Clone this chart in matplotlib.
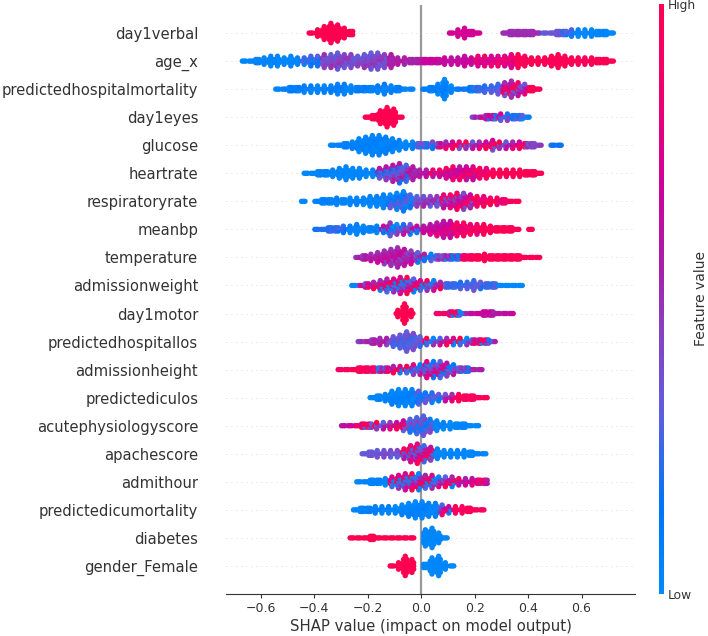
import matplotlib
matplotlib.use("Agg")
import matplotlib.pyplot as plt
import numpy as np
from matplotlib.colors import LinearSegmentedColormap

feature_names = ["day1verbal", "age_x", "predictedhospitalmortality", "day1eyes", "glucose",
                 "heartrate", "respiratoryrate", "meanbp", "temperature", "admissionweight",
                 "day1motor", "predictedhospitallos", "admissionheight", "predictediculos",
                 "acutephysiologyscore", "apachescore", "admithour", "predictedicumortality",
                 "diabetes", "gender_Female"]

# SHAP value at the left edge of the first bin of each row
bin_start = [-0.425, -0.675, -0.55, -0.215, -0.345, -0.4435, -0.4535, -0.4035, -0.2505, -0.2655,
             -0.0997, -0.2418, -0.3165, -0.197, -0.304, -0.2268, -0.2468, -0.2592, -0.2717, -0.122]

# number of dots stacked in each 0.025 wide bin
bin_counts = [
    [1,3,5,7,6,4,2] + [0]*14 + [1,3,4,2,1] + [0]*3 + [1,2,2,2,2,1] + [1,1,2,2,3,3,3,3,2,2,1],
    [1,1,2,3,4,4,3,4,3,3,4,4,5,5,6,5,5,4,5,6,6,5,5,3,3,2,2,2,2,2,3,3,3,4,3,4,4,4,4,4,5,5,4,3,3,3,4,5,4,3,3,3,3,2,2,1],
    [1,1,2,2,3,3,3,3,3,4,4,3,2,2,2,3,4,3,2,1,1,0,1,2,4,7,3,1,1,2,2,3,3,4,5,6,5,4,2,1],
    [1,2,5,7,6,1] + [0]*10 + [1,1,2,2,3,3,2,2,1],
    [1,1,2,3,5,6,7,7,6,5,4,3,3,2,2,3,2,3,3,3,3,3,3,3,4,3,3,3,3,2,2,1,0,1,1],
    [1,1,2,2,3,4,5,4,4,3,3,4,5,6,7,6,5,3,3,3,3,4,5,5,5,5,4,4,3,3,3,3,3,2,2,1],
    [1,0,1,2,2,3,2,3,3,3,4,4,5,5,6,7,5,4,4,4,4,5,5,6,6,5,4,4,3,3,2,1,1],
    [1,1,2,2,3,3,4,3,2,3,3,5,4,4,4,3,3,4,5,6,6,5,5,4,4,4,3,2,2,2,1,0,1],
    [1,2,3,4,5,6,7,6,5,4,3,3,2,2,2,2,2,2,2,3,2,2,2,2,2,1,1,1],
    [1,1,2,3,4,5,5,6,6,5,4,4,4,3,2,2,3,3,4,3,2,2,1,1,1,1],
    [3,7,3,0,0,0,1,1,2,2,1,1,1,2,2,1,1,1],
    [1,1,2,3,3,4,5,7,6,4,3,3,3,3,3,3,3,2,2,2,1],
    [1,1,1,2,2,2,2,2,3,3,3,4,4,6,6,6,5,4,2,2,1,1],
    [1,2,3,5,6,6,6,5,4,4,3,3,3,3,2,2,1,1],
    [1,1,1,2,2,3,3,3,3,4,5,6,7,5,4,3,3,2,2,1,1],
    [1,2,3,3,3,3,4,6,7,6,5,4,3,3,3,3,2,1,1],
    [1,1,2,2,3,4,5,6,6,6,5,5,4,4,4,3,3,3,2,2],
    [1,2,2,3,3,3,3,4,5,6,6,5,5,4,3,3,3,2,1,1],
    [1,1,1,2,1,1,1,1,1,1,0,6,7,4,1],
    [1,3,7,5,0,2,6,7,3,1],
]

# feature value range (0 low, 1 high) of the dots up to a SHAP value: (upper x, low, high)
color_ranges = [
    [(-0.2,1,1),(0.25,0.72,0.72),(0.44,0.5,0.52),(0.52,0.28,0.4),(0.57,0.1,0.3),(0.73,0.02,0.05)],
    [(-0.45,0.02,0.06),(-0.37,0.1,0.3),(-0.13,0.33,0.5),(0.0,0.52,0.6),(0.2,0.62,0.7),(0.36,0.7,0.88),(0.75,0.95,1)],
    [(0.14,0.03,0.12),(0.2,0.05,0.2),(0.29,0.2,0.35),(0.41,0.35,1),(0.46,0.95,1)],
    [(-0.05,1,1),(0.34,0.2,0.72),(0.42,0.02,0.3)],
    [(-0.03,0.02,0.1),(0.06,0.08,0.4),(0.41,0.35,1),(0.47,0.4,0.5),(0.55,0.15,0.2)],
    [(-0.18,0.02,0.06),(-0.05,0.15,0.6),(0.03,0.5,0.65),(0.2,0.6,0.9),(0.29,0.8,1),(0.5,0.95,1)],
    [(-0.12,0.02,0.08),(-0.02,0.03,0.35),(0.08,0.3,0.55),(0.2,0.4,0.95),(0.4,0.8,1)],
    [(-0.28,0.15,0.25),(-0.15,0.02,0.1),(0.0,0.03,0.65),(0.12,0.6,0.8),(0.22,0.8,0.95),(0.5,0.95,1)],
    [(-0.03,0.45,0.7),(0.14,0.08,0.55),(0.2,0.85,1),(0.5,0.95,1)],
    [(-0.24,0.02,0.05),(0.08,0.05,1),(0.29,0.2,0.35),(0.4,0.02,0.03)],
    [(0.0,1,1),(0.09,0.8,0.95),(0.17,0.05,1),(0.4,0.55,0.7)],
    [(-0.12,0.42,0.6),(0.0,0.22,0.4),(0.24,0.03,1),(0.33,0.2,0.95)],
    [(-0.17,0.85,1),(-0.03,0.05,1),(0.13,0.12,0.8),(0.19,0.1,0.5),(0.3,0.5,0.6)],
    [(-0.02,0.02,0.1),(0.085,0.05,0.35),(0.14,0.35,1),(0.3,0.9,1)],
    [(-0.25,0.55,0.8),(-0.06,0.3,1),(0.04,0.1,0.45),(0.3,0.02,0.06)],
    [(-0.07,0.3,0.42),(0.05,0.25,1),(0.3,0.02,0.06)],
    [(-0.13,0.02,0.08),(0.0,0.03,1),(0.13,0.05,1),(0.3,0.55,0.9)],
    [(0.07,0.02,0.1),(0.12,0.05,0.9),(0.3,0.9,1)],
    [(-0.005,1,1),(0.2,0.02,0.04)],
    [(0.0,1,1),(0.2,0.02,0.04)],
]

x_ticks = [-0.6, -0.4, -0.2, 0.0, 0.2, 0.4, 0.6]

BIN_W = 0.025
ROW_STEP = 0.115
MIX = [0, 0.75, 0.25, 1, 0.5]

cmap = LinearSegmentedColormap.from_list("red_blue", [
    (0, "#008bfb"), (0.15, "#0075fa"), (0.3, "#5a60e0"), (0.45, "#8a40c0"), (0.55, "#a820a8"),
    (0.7, "#d0009a"), (0.85, "#f0006f"), (1, "#ff0051")])

W, H = 708, 636
fig = plt.figure(figsize=(W/100, H/100), dpi=100)
ax = fig.add_axes([226/W, 1-594/H, (635-226)/W, (594-5)/H])

n = len(feature_names)
ax.axvline(0, color="#999999", lw=1.6, zorder=-1)
for i in range(n):
    row = n-1-i
    ax.axhline(row, color="#cccccc", lw=0.6, dashes=(1, 5), zorder=-1)
    xs, ys, cs = [], [], []
    for j, cnt in enumerate(bin_counts[i]):
        xc = bin_start[i] + (j+0.5)*BIN_W
        low, high = 0.5, 0.5
        for upper, a, b in color_ranges[i]:
            low, high = a, b
            if xc <= upper:
                break
        # each stacked dot is spread over three spots across the bin so the swarm closes up,
        # the side spots leave out the top and bottom dot to round the column off
        for k in range(cnt):
            for m, off in enumerate([-0.0065, 0.0, 0.0065]):
                if m != 1 and cnt >= 3 and k in (0, cnt-1):
                    continue
                xs.append(xc + off)
                ys.append(row + (k-(cnt-1)/2)*ROW_STEP)
                cs.append(low + (high-low)*MIX[(j*7+k*3+m*2) % 5])
    ax.scatter(xs, ys, c=cs, s=15, cmap=cmap, vmin=0, vmax=1, linewidths=0, zorder=3)

ax.set_xlim(-0.73, 0.8)
ax.set_ylim(-1, n)
ax.set_yticks(range(n))
ax.set_yticklabels(feature_names[::-1], fontsize=10.6, color="#333333")
ax.set_xticks(x_ticks)
ax.set_xticklabels(["\u22120.6", "\u22120.4", "\u22120.2", "0.0", "0.2", "0.4", "0.6"], fontsize=9, color="#333333")
ax.tick_params(axis="y", length=0, pad=20)
ax.tick_params(axis="x", length=3, width=0.8, color="#333333", pad=3)
for s in ["top", "left", "right"]:
    ax.spines[s].set_visible(False)
ax.spines["bottom"].set_color("#333333")
ax.set_xlabel("SHAP value (impact on model output)", fontsize=10.7, color="#333333", labelpad=3)

cax = fig.add_axes([659/W, 1-594/H, 4.5/W, 590/H])
sm = plt.cm.ScalarMappable(cmap=cmap)
sm.set_array([0, 1])
cb = fig.colorbar(sm, cax=cax, ticks=[0, 1])
cb.set_ticklabels(["Low", "High"])
cb.ax.tick_params(length=0, labelsize=8.8, labelcolor="#333333", pad=3)
cb.outline.set_visible(False)
cb.set_label("Feature value", fontsize=10, color="#333333", labelpad=-1)

fig.savefig("out.png", dpi=100)
